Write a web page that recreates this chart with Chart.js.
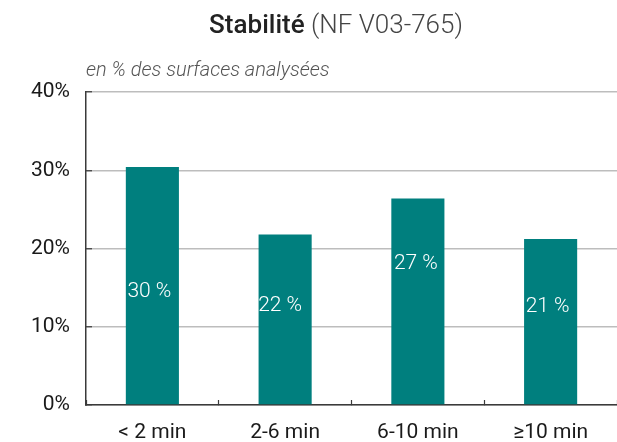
<!DOCTYPE html>
<html lang="fr">
<head>
<meta charset="utf-8">
<title>Stabilité (NF V03-765)</title>
<script src="https://cdn.jsdelivr.net/npm/chart.js@4.4.1/dist/chart.umd.min.js"></script>
<style>
    html, body { margin: 0; padding: 0; background: #fff; overflow: hidden; }
    #wrap { position: relative; width: 617px; height: 442px; overflow: hidden; }
    #box { position: absolute; left: 0; top: 0; width: 617px; height: 460px; }
    #title {
        position: absolute; left: 0; top: 9px; width: 672px;
        text-align: center; font-family: Roboto, sans-serif; font-size: 26px;
        color: #222; white-space: nowrap;
    }
    #title .main { font-weight: 500; }
    #title .norm { font-weight: 300; color: #444; }
    #subtitle {
        position: absolute; left: 86px; top: 57px;
        font-family: Roboto, sans-serif; font-style: italic; font-weight: 300;
        font-size: 20px; color: #555; white-space: nowrap;
    }
</style>
</head>
<body>
<div id="wrap">
    <div id="box"><canvas id="chart"></canvas></div>
    <div id="title"><span class="main">Stabilité</span> <span class="norm">(NF V03-765)</span></div>
    <div id="subtitle">en % des surfaces analysées</div>
</div>
<script>
// données
const categories  = ["< 2 min", "2-6 min", "6-10 min", "\u226510 min"];
const shares      = [30.4, 21.8, 26.4, 21.2];
const shareLabels = ["30 %", "22 %", "27 %", "21 %"];
const yTicks      = [0, 10, 20, 30, 40];

(function () {
    "use strict";

    const TEAL  = "#007f7e";
    const FONT  = "Roboto, sans-serif";
    const DARK  = "#3a3a3a";
    const GRID  = "#bdbdbd";

    // position of the white labels inside each bar (relative to bar middle)
    const labelShift = [[-3, 6], [-5, -14], [-2, -38], [-3, -15]];

    const barLabels = {
        id: "barLabels",
        afterDatasetsDraw(chart) {
            const ctx = chart.ctx;
            const meta = chart.getDatasetMeta(0);
            ctx.save();
            ctx.font = "300 21px " + FONT;
            ctx.fillStyle = "#ffffff";
            ctx.textAlign = "center";
            ctx.textBaseline = "middle";
            meta.data.forEach((bar, i) => {
                const mid = (bar.y + bar.base) / 2;
                const d = labelShift[i] || [0, 0];
                ctx.fillText(shareLabels[i], bar.x + d[0], mid + d[1]);
            });
            ctx.restore();
        }
    };

    function init() {
        const ctx = document.getElementById("chart").getContext("2d");
        new Chart(ctx, {
            type: "bar",
            data: {
                labels: categories,
                datasets: [{
                    data: shares,
                    backgroundColor: TEAL,
                    borderWidth: 0,
                    barPercentage: 0.4,
                    categoryPercentage: 1
                }]
            },
            plugins: [barLabels],
            options: {
                responsive: true,
                maintainAspectRatio: false,
                animation: false,
                layout: { padding: { top: 92, left: 0, right: 0, bottom: 0 } },
                plugins: {
                    legend: { display: false },
                    tooltip: { enabled: false }
                },
                scales: {
                    x: {
                        afterFit: s => { s.height = 55; },
                        border: { display: true, color: DARK, width: 1.5 },
                        grid: {
                            offset: true,
                            drawOnChartArea: false,
                            drawTicks: true,
                            tickLength: -5,
                            tickColor: DARK,
                            tickWidth: 1.2
                        },
                        ticks: {
                            color: "#1a1a1a",
                            padding: 20,
                            font: { family: FONT, size: 21 }
                        }
                    },
                    y: {
                        min: yTicks[0],
                        max: yTicks[yTicks.length - 1],
                        afterFit: s => { s.width = 86; },
                        afterBuildTicks: s => { s.ticks = yTicks.map(v => ({ value: v })); },
                        border: { display: true, color: DARK, width: 1.5 },
                        grid: {
                            color: GRID,
                            lineWidth: 1.5,
                            drawTicks: true,
                            tickLength: -6,
                            tickColor: DARK,
                            tickWidth: 1.2
                        },
                        ticks: {
                            color: "#1a1a1a",
                            padding: 22,
                            font: { family: FONT, size: 21 },
                            callback: v => v + "%"
                        }
                    }
                }
            }
        });
    }

    if (document.readyState === "loading") {
        document.addEventListener("DOMContentLoaded", init);
    } else {
        init();
    }
})();
</script>
</body>
</html>
